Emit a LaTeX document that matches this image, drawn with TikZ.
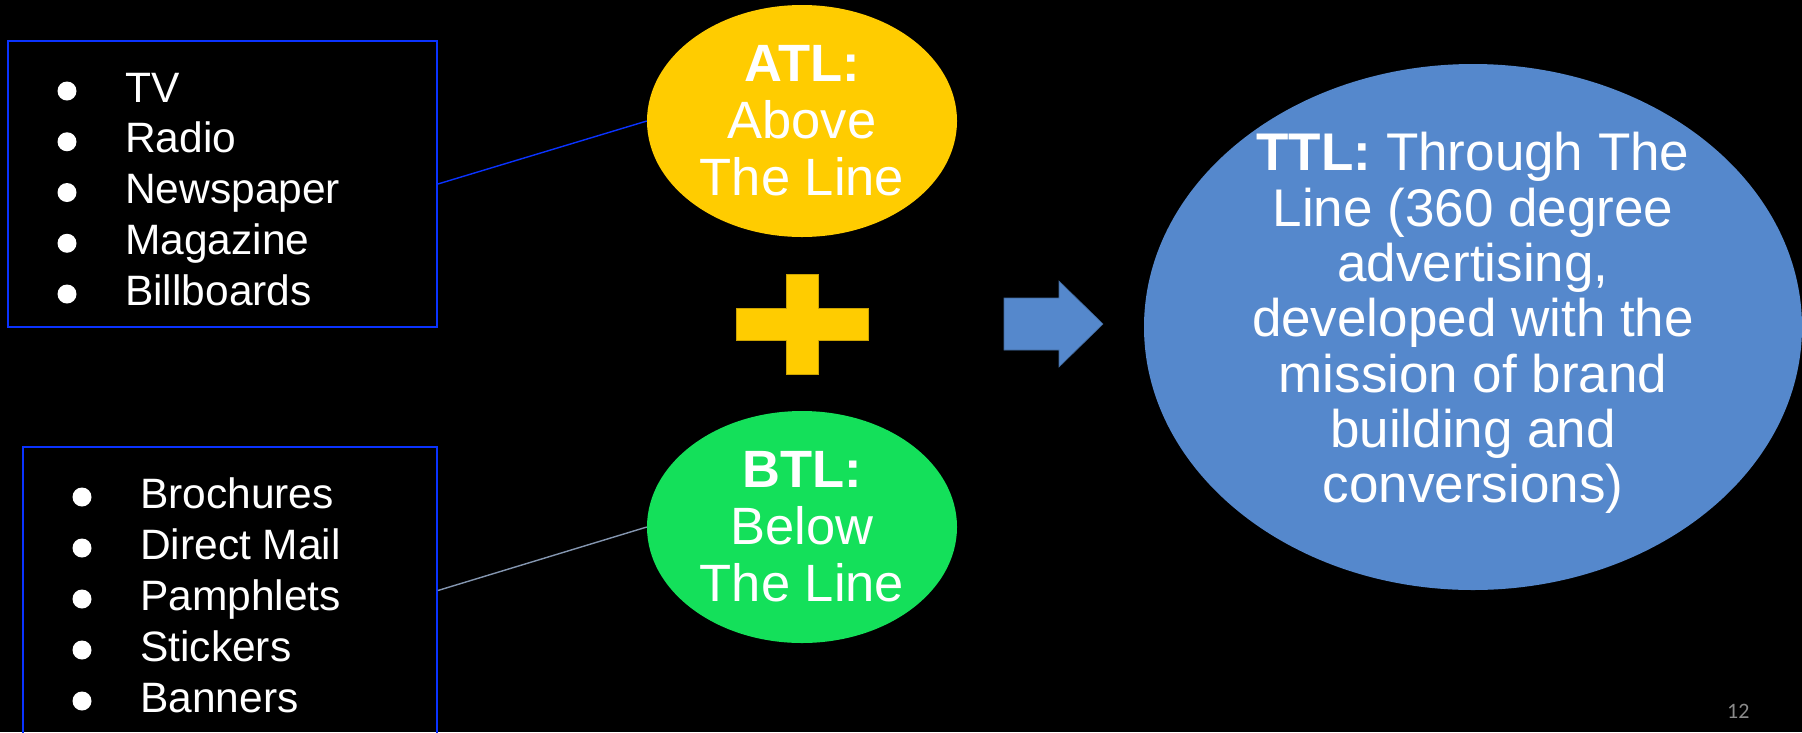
\documentclass[tikz,border=0pt]{standalone}
\usepackage{fontspec}
\setmainfont{Liberation Sans}
\newfontfamily\pagefont{Carlito}
\usetikzlibrary{shapes.geometric}

\definecolor{atlyellow}{HTML}{FFCC00}
\definecolor{btlgreen}{HTML}{14E05A}
\definecolor{ttlblue}{HTML}{5588CC}
\definecolor{ttledge}{HTML}{41689A}
\definecolor{boxblue}{HTML}{0A33FF}
\definecolor{slateline}{HTML}{8496B0}
\definecolor{pagegray}{HTML}{8A8A8A}

\tikzset{
  listbox/.style={draw=boxblue, line width=1.8pt, rectangle, inner sep=0pt},
  bubble/.style={ellipse, inner sep=0pt, draw=none},
  bubbletext/.style={text=white, align=center, inner sep=0pt,
    font=\fontsize{52.5}{57}\selectfont},
  itemtext/.style={text=white, anchor=base west, inner sep=0pt,
    font=\fontsize{42.5}{48}\selectfont},
  dot/.style={fill=white},
}

\begin{document}
\begin{tikzpicture}[x=1pt, y=-1pt]
  % page background and size
  \fill[black] (0,0) rectangle (1802,732);
  \useasboundingbox (0,0) rectangle (1802,732);

  % list boxes
  \node[listbox, minimum width=429pt, minimum height=286pt] (media) at (222.5,184) {};
  \node[listbox, minimum width=414pt, minimum height=287pt] (print) at (230,590.5) {};

  \foreach \t [count=\i from 0] in {TV,Radio,Newspaper,Magazine,Billboards} {
    \fill[dot] ({67},{91+50.75*\i}) circle[radius=9.5pt];
    \node[itemtext] (m\i) at ({125},{102+50.75*\i}) {\t};
  }
  \foreach \t [count=\i from 0] in {Brochures,Direct Mail,Pamphlets,Stickers,Banners} {
    \fill[dot] ({82},{497+51*\i}) circle[radius=9.5pt];
    \node[itemtext] (p\i) at ({140},{508+51*\i}) {\t};
  }

  % ATL / BTL bubbles
  \node[bubble, fill=atlyellow, minimum width=310pt, minimum height=232pt] (atl) at (802,121) {};
  \node[bubbletext] (atltext) at (atl.center) {\textbf{ATL:}\\Above\\The Line};
  \node[bubble, fill=btlgreen, minimum width=310pt, minimum height=232pt] (btl) at (802,527) {};
  \node[bubbletext] (btltext) at (btl.center) {\textbf{BTL:}\\Below\\The Line};

  % connectors
  \draw[boxblue, line width=1.4pt] (media.east) -- (atl.west);
  \draw[slateline, line width=1.4pt] (print.east) -- (btl.west);

  % plus sign
  \fill[atlyellow, draw=atlyellow!80!black, line width=0.5pt]
    (786,274) -- (818,274) -- (818,308) -- (868,308) -- (868,340) -- (818,340)
    -- (818,374) -- (786,374) -- (786,340) -- (736,340) -- (736,308) -- (786,308) -- cycle;

  % block arrow
  \fill[ttlblue, draw=ttledge, line width=0.6pt]
    (1004,298) -- (1059,298) -- (1059,281) -- (1103,324) -- (1059,367)
    -- (1059,350) -- (1004,350) -- cycle;

  % TTL bubble
  \node[bubble, fill=ttlblue, minimum width=658pt, minimum height=526pt] (ttl) at (1473,327) {};
  \node[bubbletext, font=\fontsize{53}{55.3}\selectfont, yshift=4pt] (ttltext) at (ttl.center)
    {\textbf{TTL:} Through The\\Line (360 degree\\advertising,\\developed with the\\mission of brand\\building and\\conversions)};

  % slide number
  \node[anchor=base west, inner sep=0pt, text=pagegray,
        font=\pagefont\fontsize{22}{26}\selectfont] (pnum) at (1727,718) {12};
\end{tikzpicture}
\end{document}
